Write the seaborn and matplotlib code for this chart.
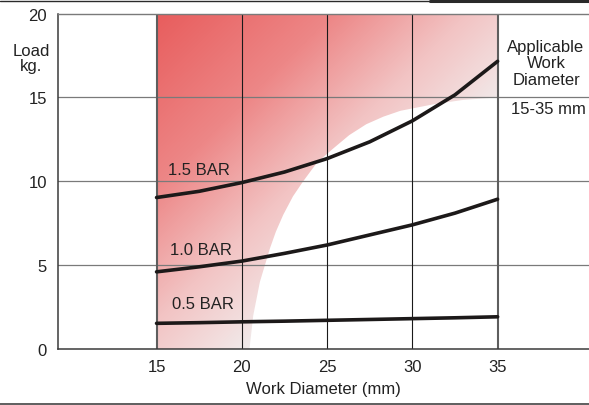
import numpy as np
import pandas as pd
import matplotlib
matplotlib.use('Agg')
import matplotlib.pyplot as plt
import seaborn as sns
from matplotlib.colors import LinearSegmentedColormap
from matplotlib.patches import Polygon
from matplotlib.lines import Line2D

# Chart data
DIAMETER = [15, 17.5, 20, 22.5, 25, 27.5, 30, 32.5, 35]
LOAD_15_BAR = [9.03, 9.4, 9.92, 10.55, 11.35, 12.35, 13.6, 15.15, 17.15]
LOAD_10_BAR = [4.6, 4.9, 5.24, 5.7, 6.2, 6.8, 7.4, 8.1, 8.93]
LOAD_05_BAR = [1.53, 1.57, 1.62, 1.66, 1.71, 1.76, 1.81, 1.86, 1.92]
SERIES_NAMES = ['1.5 BAR', '1.0 BAR', '0.5 BAR']

# Edge of the shaded working zone (lower-right cut)
ZONE_X = [20.45, 20.67, 21.06, 21.65, 22.0, 22.43, 23.0, 23.6, 24.4, 25.3, 26.3,
          27.3, 28.3, 29.3, 31.3, 33.0, 35.0]
ZONE_Y = [0, 2, 4, 6, 7.0, 8, 9.1, 10, 11.1, 11.9, 12.75, 13.4, 13.85, 14.2, 14.6, 14.85, 15.0]
ZONE_XRANGE = [15, 35]
ZONE_YRANGE = [0, 20]

X_TICKS = [15, 20, 25, 30, 35]
Y_TICKS = [0, 5, 10, 15, 20]

INK = '#222222'
CURVE = '#1c1919'

sns.set_theme(style='white')
plt.rcParams['font.family'] = ['Liberation Sans', 'DejaVu Sans']
plt.rcParams['text.color'] = INK

fig = plt.figure(figsize=(5.89, 4.06), dpi=100)
ax = fig.add_axes([58 / 589, 56 / 406, 531 / 589, 335.5 / 406])

# gradient fill clipped to the working zone
cmap = LinearSegmentedColormap.from_list('zone', [
    (0.0, '#e85d5d'), (0.4, '#ed8787'), (0.7, '#f2c3c3'),
    (0.85, '#f3d8d8'), (1.0, '#f0eeee')])
gx, gy = np.meshgrid(np.linspace(0, 1, 300), np.linspace(0, 1, 300))
t = np.clip((gx + gy) / 1.3, 0, 1)
img = ax.imshow(cmap(t), extent=[ZONE_XRANGE[0], ZONE_XRANGE[1], ZONE_YRANGE[0], ZONE_YRANGE[1]],
                origin='upper', aspect='auto', interpolation='bilinear', zorder=0)
verts = [(ZONE_XRANGE[0], ZONE_YRANGE[0])] + list(zip(ZONE_X, ZONE_Y)) + \
        [(ZONE_XRANGE[1], ZONE_YRANGE[1]), (ZONE_XRANGE[0], ZONE_YRANGE[1])]
clip = Polygon(verts, closed=True, transform=ax.transData, facecolor='none', edgecolor='none')
ax.add_patch(clip)
img.set_clip_path(clip)

# grid
for y in Y_TICKS[1:-1]:
    ax.axhline(y, color='#7a7a7a', lw=0.9, zorder=1)
for x in X_TICKS:
    if x in (X_TICKS[0], X_TICKS[-1]):
        ax.plot([x, x], [0, 20], color='#5e5e5e', lw=1.5, zorder=2)
    else:
        ax.plot([x, x], [0, 20], color='#1a1a1a', lw=0.8, zorder=2)

# curves
df = pd.DataFrame({
    'diameter': DIAMETER * 3,
    'load': LOAD_15_BAR + LOAD_10_BAR + LOAD_05_BAR,
    'pressure': [n for n in SERIES_NAMES for _ in DIAMETER],
})
sns.lineplot(data=df, x='diameter', y='load', hue='pressure',
             palette={n: CURVE for n in SERIES_NAMES}, lw=2.6,
             legend=False, ax=ax, zorder=3)

ax.text(17.5, 10.72, SERIES_NAMES[0], fontsize=12, ha='center', va='center', color=INK)
ax.text(17.6, 5.94, SERIES_NAMES[1], fontsize=12, ha='center', va='center', color=INK)
ax.text(17.7, 2.71, SERIES_NAMES[2], fontsize=12, ha='center', va='center', color=INK)

ax.set_xlim(9.22, 40.36)
ax.set_ylim(0, 20)
ax.set_xticks(X_TICKS)
ax.set_yticks(Y_TICKS)
ax.tick_params(axis='x', length=0, pad=7, labelsize=12, colors=INK)
ax.tick_params(axis='y', length=2, width=0.8, pad=6, labelsize=12, colors=INK)
ax.yaxis.set_tick_params(color='#7a7a7a')
ax.set_xlabel('Work Diameter (mm)', fontsize=12, color=INK, labelpad=5)
ax.set_ylabel('')

for side in ['left', 'bottom']:
    ax.spines[side].set_color('#3a3a3a')
    ax.spines[side].set_linewidth(1.1)
ax.spines['top'].set_color('#7a7a7a')
ax.spines['top'].set_linewidth(1.0)
ax.spines['right'].set_visible(False)

fig.text(31 / 589, 1 - 59 / 406, 'Load\nkg.', fontsize=12, ha='center', va='center',
         linespacing=1.0, color=INK)
fig.text(546 / 589, 1 - 64 / 406, 'Applicable\nWork\nDiameter', fontsize=12,
         ha='center', va='center', linespacing=1.12, color=INK)
fig.text(548 / 589, 1 - 110 / 406, '15-35 mm', fontsize=12, ha='center', va='center', color=INK)

# frame rules at top and bottom of the figure
fig.add_artist(Line2D([0, 1], [1 - 2 / 406] * 2, color='#2a2a2a', lw=1.0))
fig.add_artist(Line2D([430 / 589, 1], [1 - 1.5 / 406] * 2, color='#2a2a2a', lw=2.2))
fig.add_artist(Line2D([0, 1], [1 - 404.5 / 406] * 2, color='#333333', lw=1.1))

fig.savefig('out.png', dpi=100, facecolor='white')
